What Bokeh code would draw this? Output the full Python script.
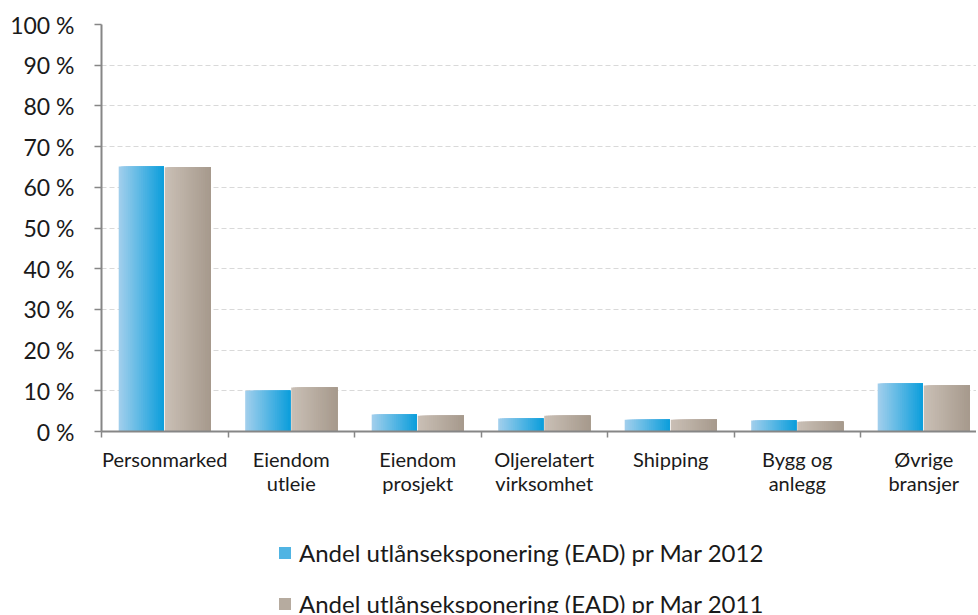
from bokeh.plotting import figure
from bokeh.layouts import column
from bokeh.models import (FixedTicker, Legend, LegendItem, ColumnDataSource, Range1d)
from bokeh.embed import file_html
from bokeh.resources import INLINE

categories = ["Personmarked", "Eiendom\nutleie", "Eiendom\nprosjekt",
              "Oljerelatert\nvirksomhet", "Shipping", "Bygg og\nanlegg", "Øvrige\nbransjer"]
ead_mar_2012 = [65.1, 10.0, 4.2, 3.2, 2.9, 2.7, 11.8]
ead_mar_2011 = [64.9, 10.8, 3.9, 3.9, 2.9, 2.4, 11.3]
series_names = ["Andel utlånseksponering (EAD) pr Mar 2012",
                "Andel utlånseksponering (EAD) pr Mar 2011"]
y_ticks = [0, 10, 20, 30, 40, 50, 60, 70, 80, 90, 100]
y_tick_labels = [f"{t} %" for t in y_ticks]

FONT = "Lato"
AXIS_COL = "#868686"
W = 976
H1, H2 = 520, 93
LEFT, TOP = 101, 24
FRAME_BOTTOM = 431
CAT_PX = 126.5

def lerp(c1, c2, t):
    return "#%02x%02x%02x" % tuple(int(round(a + (b - a) * t)) for a, b in zip(c1, c2))

blue_light, blue_dark = (160, 206, 236), (14, 159, 220)
tan_light, tan_dark = (201, 191, 181), (167, 154, 141)

N = 24
BAR_W = 0.364
GAP = 0.008

def slices(values, offset_left, offset_right, cl, cd):
    # overlapping slices (each runs to the bar's right edge) give a smooth gradient
    left, right, top, color = [], [], [], []
    for i, v in enumerate(values):
        c = i + 0.5
        a, b = c + offset_left, c + offset_right
        for k in range(N):
            left.append(a + (b - a) * k / N)
            right.append(b)
            top.append(v)
            color.append(lerp(cl, cd, k / (N - 1)))
    return ColumnDataSource(dict(left=left, right=right, top=top, bottom=[0] * len(top), color=color))

n_cat = len(categories)
p = figure(width=W, height=H1, output_backend="svg", toolbar_location=None,
           x_range=Range1d(0, (W - LEFT) / CAT_PX), y_range=Range1d(0, 100),
           min_border_left=LEFT, min_border_right=0, min_border_top=TOP,
           min_border_bottom=H1 - FRAME_BOTTOM,
           background_fill_color="white", border_fill_color="white")
p.outline_line_color = None

src12 = slices(ead_mar_2012, -BAR_W, -GAP, blue_light, blue_dark)
src11 = slices(ead_mar_2011, 0.0, BAR_W, tan_light, tan_dark)
p.quad(left="left", right="right", top="top", bottom="bottom", source=src12,
       fill_color="color", line_color=None)
p.quad(left="left", right="right", top="top", bottom="bottom", source=src11,
       fill_color="color", line_color=None)

# grid
p.xgrid.visible = False
p.ygrid.ticker = FixedTicker(ticks=y_ticks)
p.ygrid.grid_line_color = "#d9d9d9"
p.ygrid.grid_line_dash = "5 3"
p.ygrid.grid_line_width = 1
p.ygrid.level = "underlay"

# y axis
p.yaxis.ticker = FixedTicker(ticks=y_ticks)
p.yaxis.major_label_overrides = {t: l for t, l in zip(y_ticks, y_tick_labels)}
p.yaxis.axis_line_color = AXIS_COL
p.yaxis.axis_line_width = 2
p.yaxis.major_tick_line_color = AXIS_COL
p.yaxis.major_tick_line_width = 1.5
p.yaxis.major_tick_in = 0
p.yaxis.major_tick_out = 7
p.yaxis.minor_tick_line_color = None
p.yaxis.major_label_standoff = 20
p.yaxis.major_label_text_font = FONT
p.yaxis.major_label_text_font_size = "23px"
p.yaxis.major_label_text_color = "#1a1a1a"

# x axis
centers = [i + 0.5 for i in range(n_cat)]
bounds = [float(i) for i in range(n_cat + 1)]
p.xaxis.ticker = FixedTicker(ticks=centers, minor_ticks=bounds)
p.xaxis.major_label_overrides = {c: l for c, l in zip(centers, categories)}
p.xaxis.axis_line_color = AXIS_COL
p.xaxis.axis_line_width = 2
p.xaxis.major_tick_line_color = None
p.xaxis.major_tick_in = 0
p.xaxis.major_tick_out = 0
p.xaxis.minor_tick_line_color = AXIS_COL
p.xaxis.minor_tick_line_width = 1.5
p.xaxis.minor_tick_in = 0
p.xaxis.minor_tick_out = 6
p.xaxis.major_label_standoff = 9
p.xaxis.major_label_text_font = FONT
p.xaxis.major_label_text_font_size = "20px"
p.xaxis.major_label_text_line_height = 1.0
p.xaxis.major_label_text_color = "#1a1a1a"

# legend panel (separate strip below the chart)
p2 = figure(width=W, height=H2, output_backend="svg", toolbar_location=None,
            x_range=Range1d(0, 1), y_range=Range1d(0, 1),
            min_border_left=0, min_border_right=0, min_border_top=0, min_border_bottom=0,
            background_fill_color="white", border_fill_color="white")
p2.outline_line_color = None
p2.axis.visible = False
p2.grid.visible = False
# legend key swatches: placed outside the visible range, only used for the legend glyphs
k12 = p2.quad(left=[5], right=[6], top=[6], bottom=[5], fill_color=lerp(blue_light, blue_dark, 0.55),
              line_color=None)
k11 = p2.quad(left=[5], right=[6], top=[6], bottom=[5], fill_color=lerp(tan_light, tan_dark, 0.55),
              line_color=None)
legend = Legend(items=[LegendItem(label=series_names[0], renderers=[k12]),
                       LegendItem(label=series_names[1], renderers=[k11])],
                orientation="vertical", location=(176, -5),
                label_text_font=FONT, label_text_font_size="24px", label_text_color="#1a1a1a",
                glyph_width=15, glyph_height=15, spacing=22, padding=0, margin=0,
                border_line_color=None, background_fill_alpha=0, label_standoff=7)
p2.add_layout(legend, "center")

open("out.html", "w").write(file_html(column(p, p2, spacing=0), INLINE))
